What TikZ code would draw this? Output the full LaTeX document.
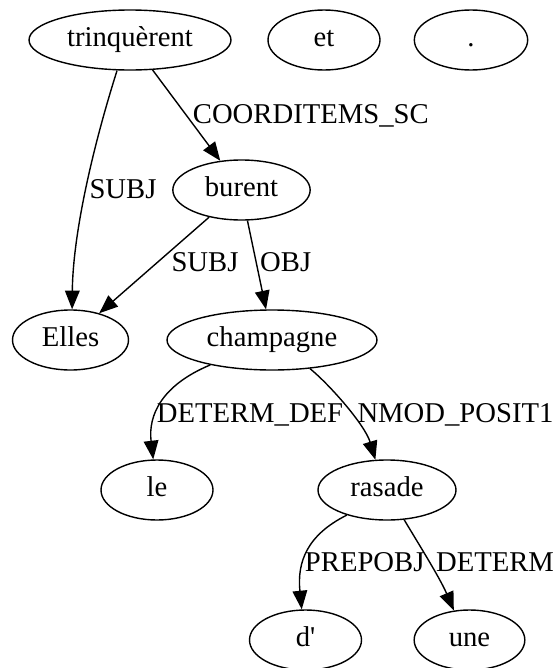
\documentclass[tikz,border=0pt]{standalone}
\usepackage{fontspec}
\setmainfont{Liberation Serif}[Ligatures=TeXOff]
\usetikzlibrary{shapes.geometric,arrows.meta}
\begin{document}
\begin{tikzpicture}[x=0.75pt,y=-0.75pt,
  every node/.style={font=\fontsize{21.5}{25}\selectfont},
  tok/.style={draw, ellipse, line width=1.05pt, inner sep=0pt, minimum height=45pt, text height=14pt, text depth=4pt},
  lab/.style={anchor=base, inner sep=0pt},
  dep/.style={draw, line width=1.05pt, -{Triangle[length=14pt,width=11pt]}}]
\useasboundingbox (0,0) rectangle (558,668);
% tokens
\node[tok, minimum width=151.5pt] (trin) at (130,40) {trinquèrent};
\node[tok, minimum width=84pt] (et) at (324,40) {et};
\node[tok, minimum width=85pt] (dot) at (471,40) {.};
\node[tok, minimum width=103pt] (burent) at (241.5,190) {burent};
\node[tok, minimum width=87pt] (elles) at (70.5,340) {Elles};
\node[tok, minimum width=157.5pt] (champ) at (272,340) {champagne};
\node[tok, minimum width=84pt] (le) at (157,490) {le};
\node[tok, minimum width=103.5pt] (rasade) at (387,490) {rasade};
\node[tok, minimum width=84pt] (d) at (305.5,640) {d'};
\node[tok, minimum width=83pt] (une) at (469.5,640) {une};
% edges
\draw[dep] (trin.247) .. controls (95,140) and (73,230) .. (elles.87);
\draw[dep] (trin.307) -- (burent.126);
\draw[dep] (burent.220) -- (elles.43);
\draw[dep] (burent.281) -- (champ.101);
\draw[dep] (champ.202) .. controls (162,385) and (148,415) .. (le.97);
\draw[dep] (champ.323) .. controls (330,385) and (365,425) .. (rasade.111);
\draw[dep] (rasade.212) .. controls (307,535) and (297,562) .. (d.97);
\draw[dep] (rasade.300) .. controls (418,543) and (440,578) .. (une.118);
% labels
\node[lab] (l1) at (123,198) {SUBJ};
\node[lab] (l2) at (310.8,123) {COORDITEMS\_SC};
\node[lab] (l3) at (205,271.5) {SUBJ};
\node[lab] (l4) at (285.7,271.5) {OBJ};
\node[lab] (l5) at (250,422.5) {DETERM\_DEF};
\node[lab] (l6) at (455.5,422.5) {NMOD\_POSIT1};
\node[lab] (l7) at (364.7,571.5) {PREPOBJ};
\node[lab] (l8) at (495,571.5) {DETERM};
\end{tikzpicture}
\end{document}
